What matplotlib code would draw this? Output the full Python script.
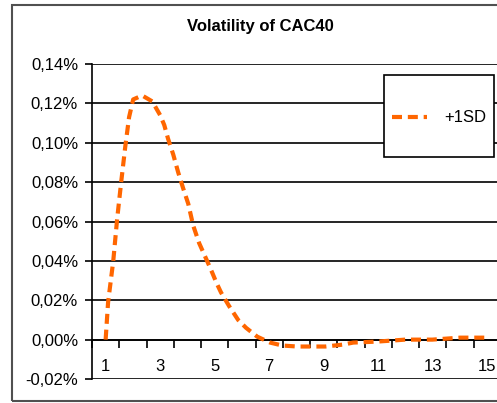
import matplotlib
matplotlib.use("Agg")
import matplotlib.pyplot as plt
from matplotlib.patches import Rectangle

plt.rcParams['font.family'] = ['Liberation Sans', 'DejaVu Sans']

# values (x in category units, y in %)
x_vals = [1.0, 1.09, 1.28, 1.42, 1.57, 1.72, 1.86, 2.01, 2.34, 2.71, 3.0, 3.15,
          3.29, 3.48, 3.66, 3.84, 4.03, 4.21, 4.43, 4.72, 4.91, 5.06, 5.23, 5.53,
          5.86, 6.15, 6.56, 7.03, 7.48, 8.03, 8.58, 9.06, 9.72, 10.08, 10.96,
          11.99, 12.98, 14.0, 14.99]
sd_vals = [0.0, 0.019, 0.040, 0.061, 0.080, 0.098, 0.113, 0.122, 0.124, 0.121,
           0.114, 0.109, 0.102, 0.094, 0.085, 0.077, 0.069, 0.058, 0.049, 0.040,
           0.034, 0.029, 0.024, 0.017, 0.010, 0.006, 0.0015, -0.0015, -0.003,
           -0.0035, -0.0035, -0.0035, -0.0025, -0.0015, -0.001, 0.0, 0.0, 0.001,
           0.001]

y_ticks = [-0.02, 0.0, 0.02, 0.04, 0.06, 0.08, 0.10, 0.12, 0.14]
y_labels = ['-0,02%', '0,00%', '0,02%', '0,04%', '0,06%', '0,08%', '0,10%',
            '0,12%', '0,14%']
x_ticks = [1, 3, 5, 7, 9, 11, 13, 15]

W, H = 497, 403
fig = plt.figure(figsize=(W / 100, H / 100), dpi=100)

# chart area border
fig.patches.append(Rectangle((12 / W, 1 - 401 / H), 1.0, (401 - 5) / H,
                             transform=fig.transFigure, fill=False,
                             edgecolor='#505050', lw=1.5))

ax = fig.add_axes([92 / W, 1 - 379 / H, (501 - 92) / W, (379 - 64) / H])
ax.set_xlim(0.5, 15.5)
ax.set_ylim(-0.02, 0.14)

for yv in y_ticks:
    ax.axhline(yv, color='black', lw=1.2, zorder=1)

ax.plot(x_vals, sd_vals, color='#FF6600', lw=3, dashes=(2.4, 1.4),
        label='+1SD', zorder=3)

for s in ['top', 'right']:
    ax.spines[s].set_visible(False)
ax.spines['left'].set_linewidth(1.2)
ax.spines['bottom'].set_position(('data', 0))
ax.spines['bottom'].set_linewidth(1.2)

ax.set_yticks(y_ticks)
ax.set_yticklabels(y_labels)
ax.tick_params(axis='y', length=5, width=1.2, pad=5, labelsize=12)

ax.set_xticks(x_ticks)
ax.set_xticks([0.5 + k for k in range(16)], minor=True)
ax.tick_params(axis='x', which='major', length=0, pad=14, labelsize=12)
ax.tick_params(axis='x', which='minor', length=6, width=1.2, direction='out')

fig.text(260 / W, 1 - 27 / H, 'Volatility of CAC40', ha='center', va='center',
         fontsize=12, fontweight='bold')

# legend box (Excel style, white with black border)
ax.add_patch(Rectangle((384 / W, 1 - 157 / H), (494 - 384) / W, (157 - 75) / H,
                       transform=fig.transFigure, facecolor='white',
                       edgecolor='black', lw=1.2, zorder=5, clip_on=False))
leg = ax.legend(loc='center left', bbox_to_anchor=(392 / W, 1 - 118 / H),
                bbox_transform=fig.transFigure, frameon=False, fontsize=12,
                borderpad=0, handlelength=2.1, handletextpad=1.05,
                borderaxespad=0)
leg.set_zorder(6)

fig.savefig('out.png', dpi=100)
